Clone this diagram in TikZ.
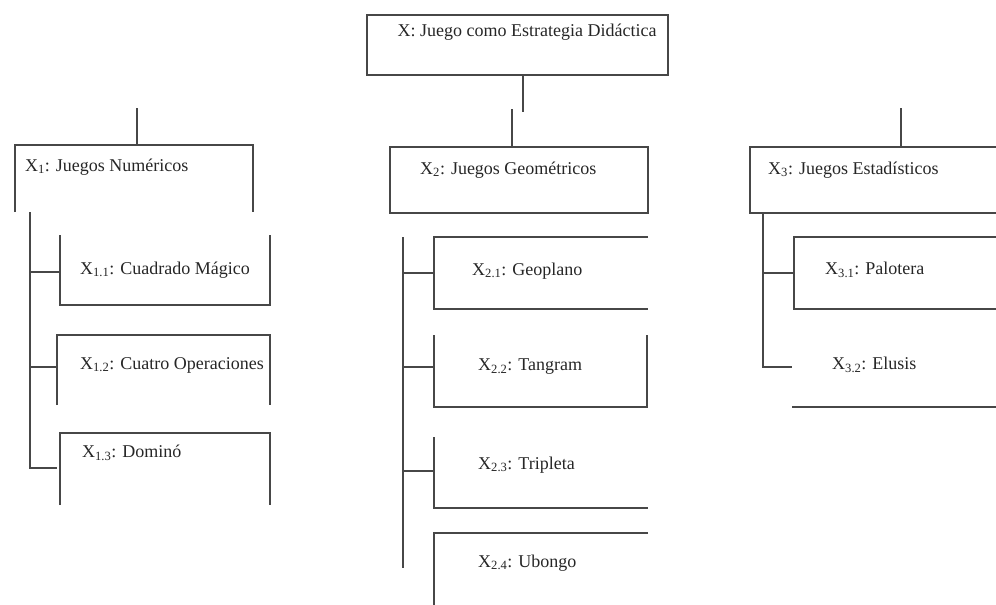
\documentclass[tikz,border=0pt]{standalone}
\usepackage{fontspec}
\setmainfont{Liberation Serif}
\newcommand{\lbfont}{\fontsize{18}{21}\selectfont}
\begin{document}
\begin{tikzpicture}[x=1pt,y=-1pt,
  ln/.style={line width=1.1pt, draw=black!72},
  lbl/.style={anchor=west, inner sep=0pt, font=\lbfont, text=black!85}]
\useasboundingbox (0,0) rectangle (996,605);
% ---- top box
\draw[ln] (367,15) rectangle (668,75);
\node[anchor=center, inner sep=0pt, font=\lbfont, text=black!85] (top) at (527,32) {X: Juego como Estrategia Didáctica};
\coordinate (topA) at (523,75); \coordinate (topB) at (523,112);
\draw[ln] (topA) -- (topB);
% ---- category boxes
\coordinate (numTop) at (137,145); \coordinate (numUp) at (137,108);
\coordinate (geoTop) at (512,147); \coordinate (geoUp) at (512,109);
\coordinate (estTop) at (901,147); \coordinate (estUp) at (901,108);
\draw[ln] (numUp) -- (numTop);
\draw[ln] (geoUp) -- (geoTop);
\draw[ln] (estUp) -- (estTop);

\draw[ln] (15,212) -- (15,145) -- (253,145) -- (253,212);
\node[lbl] (x1) at (25,167) {X\textsubscript{1}: Juegos Numéricos};

\draw[ln] (390,147) rectangle (648,213);
\node[lbl] (x2) at (420,170) {X\textsubscript{2}: Juegos Geométricos};

\draw[ln] (996,147) -- (750,147) -- (750,213) -- (996,213);
\node[lbl] (x3) at (768,170) {X\textsubscript{3}: Juegos Estadísticos};

% ---- numeric sub-items
\draw[ln] (60,235) -- (60,305) -- (270,305) -- (270,235);
\node[lbl] (x11) at (80,270) {X\textsubscript{1.1}: Cuadrado Mágico};
\draw[ln] (57,405) -- (57,335) -- (270,335) -- (270,405);
\node[lbl] (x12) at (80,365) {X\textsubscript{1.2}: Cuatro Operaciones};
\draw[ln] (60,505) -- (60,433) -- (270,433) -- (270,505);
\node[lbl] (x13) at (82,453) {X\textsubscript{1.3}: Dominó};

\coordinate (nT) at (30,212);
\coordinate (nB1) at (30,272); \coordinate (nE1) at (60,272);
\coordinate (nB2) at (30,367); \coordinate (nE2) at (57,367);
\coordinate (nB3) at (30,468); \coordinate (nE3) at (57,468);
\draw[ln] (nT) -- (nB3) -- (nE3);
\draw[ln] (nB1) -- (nE1);
\draw[ln] (nB2) -- (nE2);

% ---- geometric sub-items
\draw[ln] (648,237) -- (434,237) -- (434,309) -- (648,309);
\node[lbl] (x21) at (472,271) {X\textsubscript{2.1}: Geoplano};
\draw[ln] (434,335) -- (434,407) -- (647,407) -- (647,335);
\node[lbl] (x22) at (478,367) {X\textsubscript{2.2}: Tangram};
\draw[ln] (434,437) -- (434,508) -- (648,508);
\node[lbl] (x23) at (478,465) {X\textsubscript{2.3}: Tripleta};
\draw[ln] (648,533) -- (434,533) -- (434,605);
\node[lbl] (x24) at (478,563) {X\textsubscript{2.4}: Ubongo};

\coordinate (gT) at (403,237); \coordinate (gB) at (403,568);
\coordinate (gB1) at (403,273); \coordinate (gE1) at (434,273);
\coordinate (gB2) at (403,367); \coordinate (gE2) at (434,367);
\coordinate (gB3) at (403,471); \coordinate (gE3) at (434,471);
\draw[ln] (gT) -- (gB);
\draw[ln] (gB1) -- (gE1);
\draw[ln] (gB2) -- (gE2);
\draw[ln] (gB3) -- (gE3);

% ---- statistical sub-items
\draw[ln] (996,237) -- (794,237) -- (794,309) -- (996,309);
\node[lbl] (x31) at (825,270) {X\textsubscript{3.1}: Palotera};
\draw[ln] (792,407) -- (996,407);
\node[lbl] (x32) at (832,365) {X\textsubscript{3.2}: Elusis};

\coordinate (eT) at (763,213);
\coordinate (eB1) at (763,273); \coordinate (eE1) at (794,273);
\coordinate (eB2) at (763,367); \coordinate (eE2) at (792,367);
\draw[ln] (eT) -- (eB2) -- (eE2);
\draw[ln] (eB1) -- (eE1);
\end{tikzpicture}
\end{document}
